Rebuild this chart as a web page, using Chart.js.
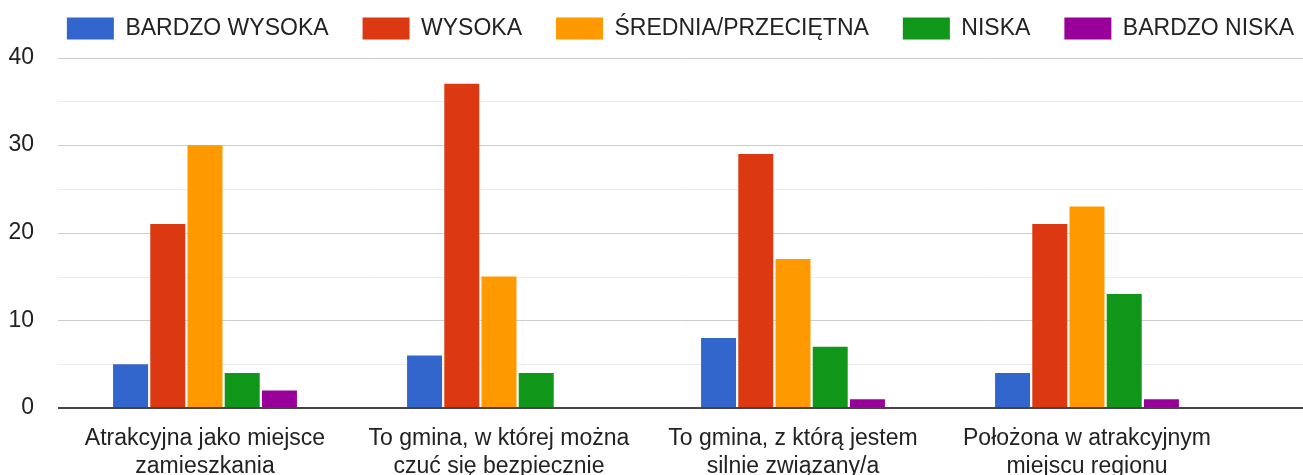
<!DOCTYPE html>
<html>
<head>
<meta charset="utf-8">
<script src="https://cdn.jsdelivr.net/npm/chart.js@4"></script>
<style>
  html, body { margin: 0; padding: 0; background: #fff; }
  #wrap { width: 1303px; height: 475px; }
</style>
</head>
<body>
<div id="wrap"><canvas id="bar_chart"></canvas></div>
<script>
"use strict";

/*-- data --*/
var categories = [
  ["Atrakcyjna jako miejsce", "zamieszkania"],
  ["To gmina, w której można", "czuć się bezpiecznie"],
  ["To gmina, z którą jestem", "silnie związany/a"],
  ["Położona w atrakcyjnym", "miejscu regionu"]
];
var seriesNames = ["BARDZO WYSOKA", "WYSOKA", "ŚREDNIA/PRZECIĘTNA", "NISKA", "BARDZO NISKA"];
var bardzoWysoka = [5, 6, 8, 4];
var wysoka = [21, 37, 29, 21];
var srednia = [30, 15, 17, 23];
var niska = [4, 4, 7, 13];
var bardzoNiska = [2, 0, 1, 1];
var yTicks = [0, 10, 20, 30, 40];

var colors = ['#3366cc', '#dc3912', '#ff9900', '#109618', '#990099'];
var values = [bardzoWysoka, wysoka, srednia, niska, bardzoNiska];
var FONT = "'Liberation Sans', Arial, sans-serif";

/*-- grid lines across full width --*/
var gridPlugin = {
  id: 'fullGrid',
  afterLayout: function (chart) {
    var lg = chart.legend;
    lg.left = 31;
    lg.right = 1330;
    lg.top = -16.9;
  },
  beforeDatasetsDraw: function (chart) {
    var ctx = chart.ctx, y = chart.scales.y, area = chart.chartArea;
    ctx.save();
    ctx.lineWidth = 1;
    y.ticks.forEach(function (t) {
      if (t.value === 0) return;
      var py = Math.round(y.getPixelForValue(t.value)) + 0.5;
      ctx.strokeStyle = yTicks.indexOf(t.value) >= 0 ? '#cccccc' : '#ebebeb';
      ctx.beginPath();
      ctx.moveTo(area.left, py);
      ctx.lineTo(chart.width, py);
      ctx.stroke();
    });
    ctx.restore();
  },
  afterDatasetsDraw: function (chart) {
    var ctx = chart.ctx, y = chart.scales.y, area = chart.chartArea;
    var py = Math.round(y.getPixelForValue(0));
    ctx.save();
    ctx.strokeStyle = '#444';
    ctx.lineWidth = 2;
    ctx.beginPath();
    ctx.moveTo(area.left, py);
    ctx.lineTo(chart.width, py);
    ctx.stroke();
    ctx.restore();
  }
};

new Chart(document.getElementById("bar_chart").getContext("2d"), {
  type: 'bar',
  data: {
    labels: categories,
    datasets: seriesNames.map(function (name, i) {
      return {
        label: name,
        data: values[i],
        backgroundColor: colors[i],
        borderWidth: 0,
        barPercentage: 0.94,
        categoryPercentage: 0.633
      };
    })
  },
  options: {
    responsive: true,
    maintainAspectRatio: false,
    animation: false,
    layout: { padding: { top: -9.5, left: 0, right: 0, bottom: 0 } },
    plugins: {
      tooltip: { enabled: false },
      legend: {
        position: 'top',
        labels: {
          boxWidth: 47,
          boxHeight: 22,
          padding: 34,
          color: '#222',
          font: { family: FONT, size: 23 }
        }
      }
    },
    scales: {
      x: {
        grid: { display: false, drawTicks: false },
        border: { display: false },
        ticks: {
          color: '#222',
          padding: 17,
          maxRotation: 0,
          autoSkip: false,
          font: { family: FONT, size: 23, lineHeight: 1.22 }
        },
        afterFit: function (s) { s.height = 67; }
      },
      y: {
        min: 0,
        max: 40,
        grid: { display: false, drawTicks: false },
        border: { display: false },
        ticks: {
          stepSize: 5,
          padding: 24,
          color: '#222',
          font: { family: FONT, size: 23 },
          callback: function (v) { return yTicks.indexOf(v) >= 0 ? v : ''; }
        },
        afterFit: function (s) { s.width = 58; }
      },
      y2: {
        position: 'right',
        grid: { display: false, drawTicks: false },
        border: { display: false },
        ticks: { display: false },
        afterFit: function (s) { s.width = 69; }
      }
    }
  },
  plugins: [gridPlugin]
});
</script>
</body>
</html>
